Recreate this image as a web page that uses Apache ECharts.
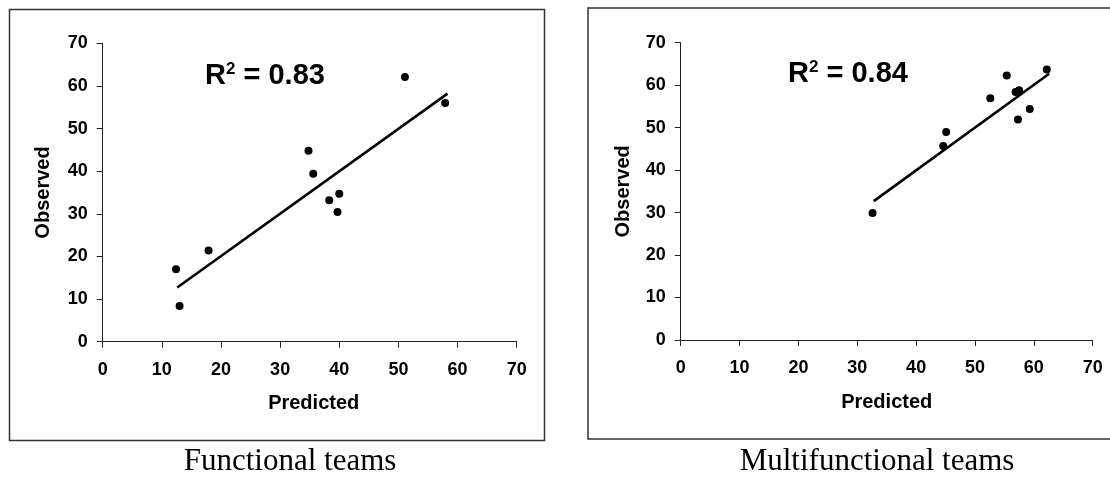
<!DOCTYPE html>
<html>
<head>
<meta charset="utf-8">
<script src="https://cdn.jsdelivr.net/npm/echarts@6/dist/echarts.min.js"></script>
<style>
html,body{margin:0;padding:0;background:#fff;}
#chart{width:1110px;height:484px;}
</style>
</head>
<body>
<div id="chart"></div>
<script>
// Functional teams
var funcPredicted = [12.4, 13.0, 17.9, 34.8, 35.6, 38.3, 40.0, 39.7, 51.1, 57.9];
var funcObserved  = [17.0,  8.4, 21.4, 44.8, 39.4, 33.2, 34.7, 30.4, 62.1, 56.0];
var funcTrendX = [12.6, 58.3];
var funcTrendY = [12.7, 58.2];
var funcR2 = '0.83';

// Multifunctional teams
var multiPredicted = [32.6, 44.6, 45.1, 52.6, 55.4, 56.9, 57.5, 57.3, 59.3, 62.2];
var multiObserved  = [29.9, 45.7, 49.0, 56.9, 62.3, 58.4, 58.8, 51.9, 54.4, 63.7];
var multiTrendX = [32.8, 62.6];
var multiTrendY = [32.7, 62.7];
var multiR2 = '0.84';

var axisMin = 0, axisMax = 70, axisStep = 10;
var captions = ['Functional teams', 'Multifunctional teams'];
var xTitle = 'Predicted', yTitle = 'Observed';

function pairs(xs, ys){ return xs.map(function(x,i){ return [x, ys[i]]; }); }

var sans = "'Liberation Sans', Arial, sans-serif";
var serif = "'Liberation Serif', 'Times New Roman', serif";

function xAx(gi, shift){
  return {
    type:'value', gridIndex:gi, min:axisMin, max:axisMax, interval:axisStep,
    name:xTitle, nameLocation:'middle', nameGap:52,
    nameTextStyle:{fontFamily:sans, fontWeight:'bold', fontSize:20, color:'#000', padding:[0,0,0,shift]},
    axisLine:{lineStyle:{color:'#222', width:1}},
    axisTick:{show:true, inside:false, length:6, lineStyle:{color:'#222'}},
    axisLabel:{fontFamily:sans, fontWeight:'bold', fontSize:18, color:'#000', margin:19},
    splitLine:{show:false}
  };
}
function yAx(gi, gap){
  return {
    type:'value', gridIndex:gi, min:axisMin, max:axisMax, interval:axisStep,
    name:yTitle, nameLocation:'middle', nameGap:gap, nameRotate:90,
    nameTextStyle:{fontFamily:sans, fontWeight:'bold', fontSize:20, color:'#000'},
    axisLine:{show:true, lineStyle:{color:'#222', width:1}},
    axisTick:{show:true, inside:false, length:6, lineStyle:{color:'#222'}},
    axisLabel:{fontFamily:sans, fontWeight:'bold', fontSize:18, color:'#000', margin:15},
    splitLine:{show:false}
  };
}

function r2Text(x, y, val){
  return {
    type:'text', left:x, top:y, z:10,
    style:{
      text:'{r|R}{s|2}{r| = ' + val + '}',
      rich:{
        r:{fontFamily:sans, fontWeight:'bold', fontSize:29, lineHeight:30, fill:'#000'},
        s:{fontFamily:sans, fontWeight:'bold', fontSize:17, lineHeight:17, verticalAlign:'top', fill:'#000'}
      }
    }
  };
}

var chart = echarts.init(document.getElementById('chart'), null, {renderer:'canvas'});
chart.setOption({
  animation:false,
  backgroundColor:'#fff',
  grid:[
    {left:102.7, top:43.3, width:414, height:298.4, containLabel:false},
    {left:680.7, top:42.7, width:412, height:297.3, containLabel:false}
  ],
  xAxis:[xAx(0, 8), xAx(1, 0)],
  yAxis:[yAx(0, 49), yAx(1, 47)],
  series:[
    {type:'line', xAxisIndex:0, yAxisIndex:0, data:pairs(funcTrendX, funcTrendY), symbol:'none',
     lineStyle:{color:'#000', width:2.6}, silent:true},
    {type:'scatter', xAxisIndex:0, yAxisIndex:0, data:pairs(funcPredicted, funcObserved),
     symbol:'circle', symbolSize:8, itemStyle:{color:'#000', opacity:1}},
    {type:'line', xAxisIndex:1, yAxisIndex:1, data:pairs(multiTrendX, multiTrendY), symbol:'none',
     lineStyle:{color:'#000', width:2.6}, silent:true},
    {type:'scatter', xAxisIndex:1, yAxisIndex:1, data:pairs(multiPredicted, multiObserved),
     symbol:'circle', symbolSize:8, itemStyle:{color:'#000', opacity:1}}
  ],
  graphic:[
    {type:'rect', shape:{x:9.5, y:9.5, width:535, height:431}, style:{fill:'none', stroke:'#333', lineWidth:1.5}, silent:true},
    {type:'rect', shape:{x:588, y:8, width:530, height:431}, style:{fill:'none', stroke:'#333', lineWidth:1.5}, silent:true},
    r2Text(205, 61, funcR2),
    r2Text(788, 59, multiR2),
    {type:'text', x:290, y:462, style:{text:captions[0], fontFamily:serif, fontSize:31, fill:'#000', align:'center', verticalAlign:'middle'}},
    {type:'text', x:877, y:462, style:{text:captions[1], fontFamily:serif, fontSize:31, fill:'#000', align:'center', verticalAlign:'middle'}}
  ]
});
</script>
</body>
</html>
